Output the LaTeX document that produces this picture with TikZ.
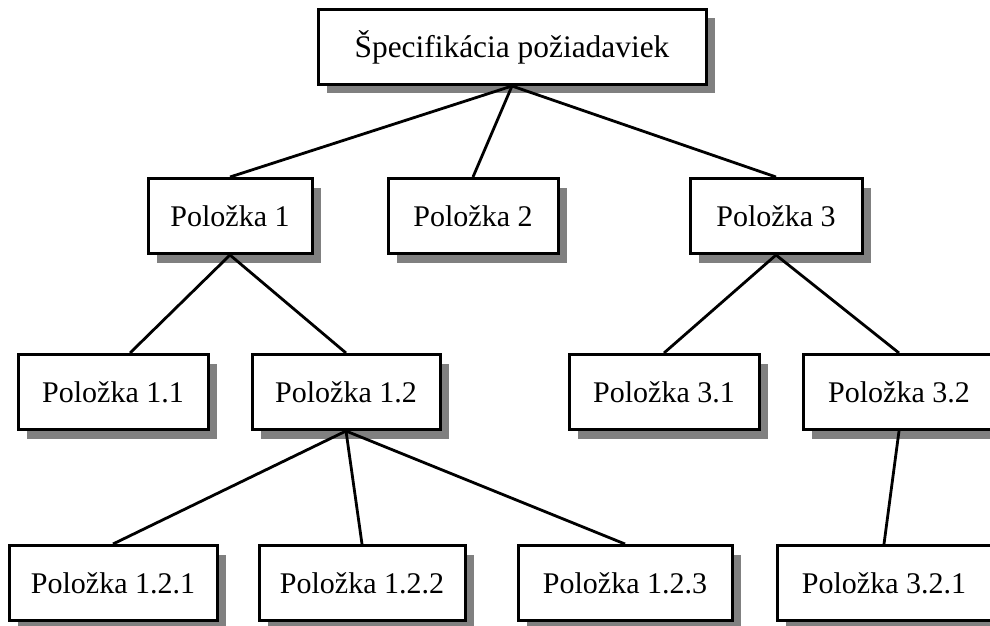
\documentclass[tikz,border=0pt]{standalone}
\usepackage{fontspec}
\setmainfont{Liberation Serif}
\usetikzlibrary{shadows}
\definecolor{myshadow}{RGB}{128,128,128}

\begin{document}
\begin{tikzpicture}[x=0.5pt,y=-0.5pt]
  \useasboundingbox (0,0) rectangle (990,626);

  \tikzstyle{box}=[draw,line width=1.5pt,fill=white,inner sep=0pt,
    minimum height=37.5pt,font=\fontsize{15}{18}\selectfont,
    drop shadow={shadow xshift=4.5pt,shadow yshift=-4.5pt,fill=myshadow,opacity=1}]
  \tikzstyle{link}=[line width=1.4pt]

  \node[box,minimum width=194pt,font=\fontsize{15.7}{18}\selectfont] (S) at (512,47) {Špecifikácia požiadaviek};

  \foreach \name/\x/\y/\w/\text in {P-1/230/216/82/1, P-2/473/216/85/2, P-3/776/216/86/3,
      P-1-1/113/392/95/1.1, P-1-2/346/392/94/1.2, P-3-1/664/392/95/3.1, P-3-2/899/392/96/3.2,
      P-1-2-1/113/583/104/1.2.1, P-1-2-2/362/583/103/1.2.2, P-1-2-3/625/583/107/1.2.3,
      P-3-2-1/884/583/107/3.2.1}
    \node[box,minimum width=\w pt] (\name) at (\x,\y) {Položka \text};

  \foreach \from/\to in {S/P-1,S/P-2,S/P-3,P-1/P-1-2,P-3/P-3-1,P-3/P-3-2,
      P-1-2/P-1-2-1,P-1-2/P-1-2-2,P-1-2/P-1-2-3,P-3-2/P-3-2-1}
    \draw[link] (\from.south) -- (\to.north);
  \draw[link] (P-1.south) -- ([xshift=8.5pt]P-1-1.north);
\end{tikzpicture}
\end{document}
